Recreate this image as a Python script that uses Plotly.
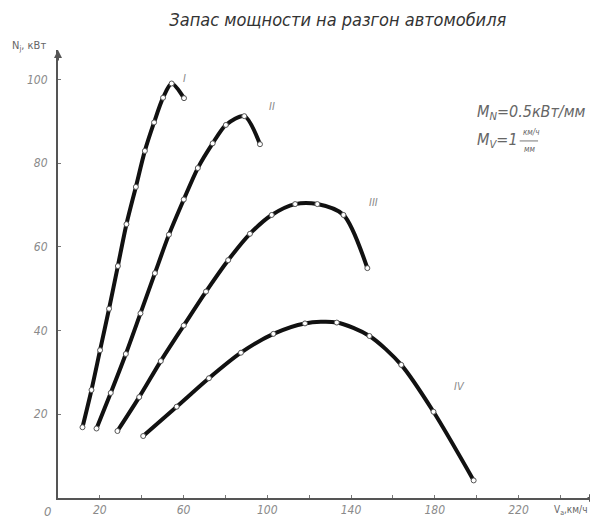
import plotly.graph_objects as go

# ---- data ----
speed_I = [11.7, 16.0, 20.1, 24.4, 28.6, 32.7, 37.2, 41.5, 45.9, 50.2, 54.3, 60.2]
power_I = [16.9, 25.8, 35.3, 45.2, 55.4, 65.4, 74.3, 82.9, 89.7, 95.6, 99.0, 95.5]

speed_II = [18.4, 25.2, 32.4, 39.4, 46.3, 53.0, 60.1, 66.8, 73.9, 80.2, 89.0, 96.5]
power_II = [16.6, 25.1, 34.4, 44.1, 53.7, 62.9, 71.3, 78.8, 84.7, 89.1, 91.2, 84.5]

speed_III = [28.4, 38.8, 49.1, 60.1, 70.7, 81.3, 91.7, 102.1, 113.3, 123.9, 136.4, 147.8]
power_III = [16.0, 24.1, 32.7, 41.2, 49.3, 56.8, 63.1, 67.6, 70.2, 70.2, 67.6, 54.9]

speed_IV = [40.7, 56.7, 72.1, 87.4, 102.9, 118.0, 133.2, 148.8, 164.0, 179.4, 198.6]
power_IV = [14.8, 21.8, 28.6, 34.7, 39.2, 41.7, 41.9, 38.7, 31.8, 20.6, 4.2]

gear_names = ["I", "II", "III", "IV"]
gear_label_x = [60.6, 102.3, 150.7, 191.9]
gear_label_y = [100.3, 93.6, 70.5, 26.7]

x_tick_vals = [20, 40, 60, 80, 100, 120, 140, 160, 180, 200, 220, 240]
x_tick_text = ["20", "", "60", "", "100", "", "140", "", "180", "", "220", ""]
y_tick_vals = [20, 40, 60, 80, 100]
y_tick_text = ["20", "40", "60", "80", "100"]

title_text = "Запас мощности на разгон автомобиля"
y_title = "N<sub>j</sub>, кВт"
x_title = "V<sub>a</sub>,км/ч"

FONT = "Liberation Sans Narrow, DejaVu Sans Condensed, Roboto, sans-serif"
GRAY = "#8a8a8a"

series = [(speed_I, power_I), (speed_II, power_II), (speed_III, power_III), (speed_IV, power_IV)]

fig = go.Figure()
for xs, ys in series:
    fig.add_trace(go.Scatter(
        x=xs, y=ys, mode="lines+markers",
        line=dict(color="#111111", width=4, shape="spline", smoothing=0.8),
        marker=dict(size=5, color="white", line=dict(color="#555555", width=1)),
        showlegend=False, hoverinfo="x+y",
    ))

for name, lx, ly in zip(gear_names, gear_label_x, gear_label_y):
    fig.add_annotation(x=lx, y=ly, text=name, showarrow=False,
                       font=dict(family=FONT, size=11, color=GRAY, style="italic"))

annots = [
    dict(xref="paper", yref="paper", x=-0.02, y=0, xanchor="center", yanchor="top",
         yshift=-4, text="0", showarrow=False,
         font=dict(family=FONT, size=13, color=GRAY, style="italic")),
    dict(xref="paper", yref="paper", x=-0.018, y=1.009, xanchor="right", yanchor="middle",
         text=y_title, showarrow=False,
         font=dict(family=FONT, size=11, color="#666666")),
    dict(xref="paper", yref="paper", x=0.984, y=0, xanchor="right", yanchor="top",
         yshift=-4, text=x_title, showarrow=False,
         font=dict(family=FONT, size=10, color="#666666")),
    dict(xref="paper", yref="paper", x=0.772, y=0.860, xanchor="left", yanchor="middle",
         text="M<sub>N</sub>=0.5кВт/мм", showarrow=False,
         font=dict(family=FONT, size=16, color="#666666", style="italic")),
    dict(xref="paper", yref="paper", x=0.772, y=0.797, xanchor="left", yanchor="middle",
         text="M<sub>V</sub>=1", showarrow=False,
         font=dict(family=FONT, size=16, color="#666666", style="italic")),
    dict(xref="paper", yref="paper", x=0.857, y=0.816, xanchor="left", yanchor="middle",
         text="км/ч", showarrow=False,
         font=dict(family=FONT, size=8, color="#666666", style="italic")),
    dict(xref="paper", yref="paper", x=0.860, y=0.779, xanchor="left", yanchor="middle",
         text="мм", showarrow=False,
         font=dict(family=FONT, size=8, color="#666666", style="italic")),
    # axis arrows
    dict(xref="paper", yref="paper", x=0, y=1.0, ax=0, ay=12, text="", showarrow=True,
         arrowhead=2, arrowsize=0.8, arrowwidth=2, arrowcolor="#555555"),
    dict(xref="paper", yref="paper", x=1.0, y=0, ax=-12, ay=0, text="", showarrow=True,
         arrowhead=2, arrowsize=0.8, arrowwidth=2, arrowcolor="#555555"),
]
for a in annots:
    fig.add_annotation(**a)

# fraction bar
fig.add_shape(type="line", xref="paper", yref="paper", x0=0.855, x1=0.889, y0=0.797, y1=0.797,
              line=dict(color="#777777", width=1))

fig.update_layout(
    width=590, height=514,
    margin=dict(l=50, r=0, t=42, b=24),
    paper_bgcolor="white", plot_bgcolor="white",
    title=dict(text=title_text, x=0.559, xanchor="center", y=0.977, yanchor="middle",
               font=dict(family=FONT, size=18, color="#333333", style="italic")),
    xaxis=dict(range=[0, 258], showgrid=False, zeroline=False,
               showline=True, linecolor="#555555", linewidth=2,
               tickvals=x_tick_vals, ticktext=x_tick_text,
               ticks="inside", ticklen=3, tickcolor="#777777",
               tickfont=dict(family=FONT, size=12, color=GRAY, style="italic")),
    yaxis=dict(range=[0, 107], showgrid=False, zeroline=False,
               showline=True, linecolor="#555555", linewidth=2,
               tickvals=y_tick_vals, ticktext=y_tick_text,
               ticks="inside", ticklen=3, tickcolor="#777777",
               ticklabelstandoff=6,
               tickfont=dict(family=FONT, size=12, color=GRAY, style="italic")),
)

fig.write_html("out.html")
